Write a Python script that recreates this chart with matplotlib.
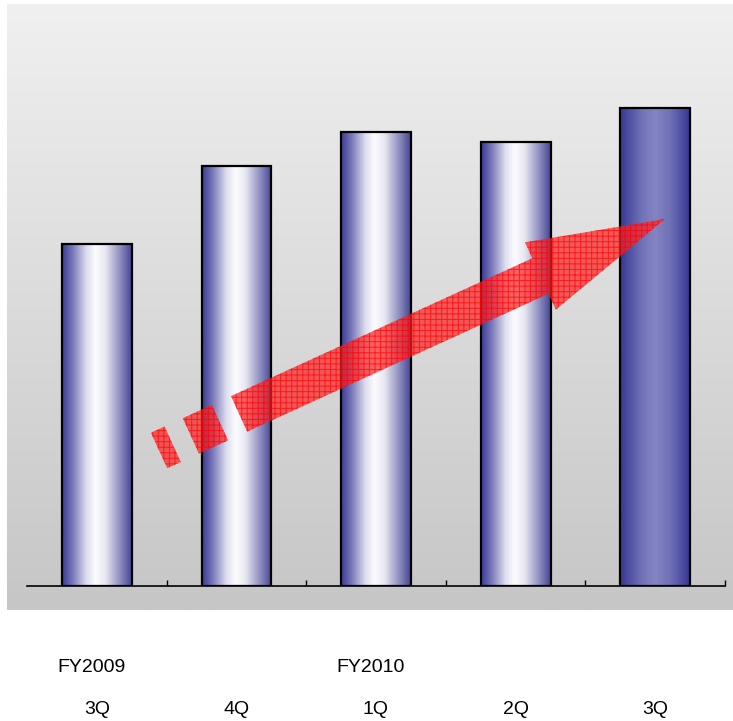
import numpy as np
import matplotlib
matplotlib.use("Agg")
import matplotlib.pyplot as plt
from matplotlib.colors import LinearSegmentedColormap
from matplotlib.patches import Polygon
from matplotlib.transforms import blended_transform_factory

plt.rcParams["hatch.linewidth"] = 0.7

quarters = ["3Q", "4Q", "1Q", "2Q", "3Q"]
fiscal_years = ["FY2009", "", "FY2010", "", ""]
values = [342, 420, 454, 444, 478]

# trend arrow, in data coordinates (tail -> tip)
arrow_tail = (0.446, 135.5)
arrow_tip = (4.07, 367.0)

W, H = 733, 721
fig = plt.figure(figsize=(W / 100, H / 100), dpi=100)
fig.patch.set_facecolor("white")

# grey gradient panel behind the chart
bg = fig.add_axes([0, 0, 1, 1])
bg.set_xlim(0, W)
bg.set_ylim(H, 0)
bg.axis("off")
shade = (np.linspace(0xf0, 0xc6, 256) / 255)[:, None]
panel = np.dstack([shade, shade, shade]).repeat(2, axis=1)
bg.imshow(panel, extent=[7, W, 610, 4], aspect="auto", interpolation="bilinear")

ax = fig.add_axes([27 / W, (H - 586) / H, 698 / W, 582 / H])
ax.patch.set_alpha(0)

side = LinearSegmentedColormap.from_list("side", [
    (0.0, (58/255, 58/255, 150/255)),
    (0.15, (120/255, 120/255, 185/255)),
    (0.35, (222/255, 222/255, 238/255)),
    (0.48, (252/255, 252/255, 255/255)),
    (0.62, (232/255, 232/255, 242/255)),
    (0.85, (135/255, 135/255, 188/255)),
    (1.0, (68/255, 68/255, 150/255)),
])
solid = LinearSegmentedColormap.from_list("solid", [
    (0.0, (55/255, 55/255, 148/255)),
    (0.3, (112/255, 112/255, 182/255)),
    (0.5, (132/255, 132/255, 196/255)),
    (0.72, (112/255, 112/255, 182/255)),
    (1.0, (55/255, 55/255, 148/255)),
])

x = np.arange(len(values))
bars = ax.bar(x, values, width=0.5, facecolor="none", edgecolor="black",
              linewidth=1.6, zorder=3)
ramp = np.linspace(0, 1, 256)[None, :]
for i, b in enumerate(bars):
    x0, w, h = b.get_x(), b.get_width(), b.get_height()
    cmap = solid if i == len(bars) - 1 else side
    ax.imshow(ramp, cmap=cmap, extent=[x0, x0 + w, 0, h], aspect="auto",
              interpolation="bilinear", zorder=2)
ax.set_xlim(-0.5, 4.5)
ax.set_ylim(0, 582)

for s in ["top", "left", "right"]:
    ax.spines[s].set_visible(False)
ax.spines["bottom"].set_linewidth(1.2)
ax.spines["bottom"].set_zorder(4)
ax.set_yticks([])
ax.set_xticks(x + 0.5)
ax.set_xticklabels([])
ax.tick_params(axis="x", direction="in", length=4, width=1, color="black")

# category labels below the panel
tr = blended_transform_factory(ax.transData, fig.transFigure)
for i, (q, fy) in enumerate(zip(quarters, fiscal_years)):
    ax.text(i, 1 - 709 / H, q, transform=tr, ha="center", va="center",
            fontsize=14, family="Liberation Sans")
    if fy:
        ax.text(i - 0.04, 1 - 667 / H, fy, transform=tr, ha="center",
                va="center", fontsize=14, family="Liberation Sans")

# red arrow with a broken tail, built in display pixels
fig.canvas.draw()
p0 = ax.transData.transform(arrow_tail)
p1 = ax.transData.transform(arrow_tip)
d = p1 - p0
L = np.hypot(*d)
u = d / L
n = np.array([-u[1], u[0]])
hw, headw, headl = 19.5, 37.0, 137.0


def at(s, t):
    return p0 + u * s + n * t


def piece(a, b):
    return [at(a, -hw), at(b, -hw), at(b, hw), at(a, hw)]


shapes = [piece(0, 15), piece(35, 67)]
hb = L - headl
shapes.append([at(88, -hw), at(hb, -hw), at(hb, -headw), at(L, 0),
               at(hb, headw), at(hb, hw), at(88, hw)])
for pts in shapes:
    fig.patches.append(Polygon(pts, closed=True, transform=None,
                               facecolor=(1, 0.12, 0.12, 0.7),
                               edgecolor=(1, 0, 0, 0.7), linewidth=0,
                               hatch="+++", zorder=10))

fig.savefig("out.png", dpi=100)
